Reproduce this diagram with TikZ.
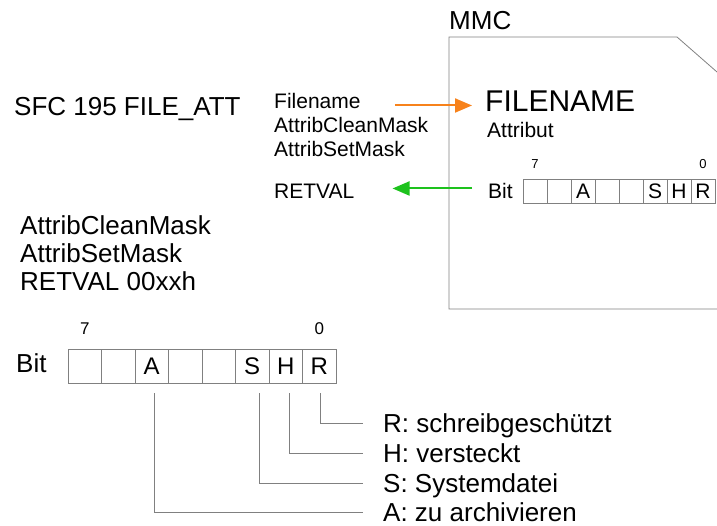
\documentclass[tikz,border=0pt]{standalone}
\usepackage{fontspec}
\setmainfont{Liberation Sans}
\usetikzlibrary{arrows.meta, calc, positioning}
\definecolor{pfeilorange}{HTML}{F7821B}
\definecolor{pfeilgruen}{HTML}{1DC21D}
\definecolor{linie}{HTML}{808080}

\begin{document}
\begin{tikzpicture}[x=1pt, y=-1pt,
    gross/.style={font=\fontsize{26}{31}\selectfont, inner sep=0pt, anchor=base west},
    klein/.style={font=\fontsize{21}{25}\selectfont, inner sep=0pt, anchor=base west},
    zelle/.style={draw=linie, line width=0.8pt, minimum width=33.5pt, minimum height=34pt,
                  inner sep=0pt, font=\fontsize{24}{28}\selectfont},
    kzelle/.style={zelle, minimum width=24pt, minimum height=24pt, font=\fontsize{21}{25}\selectfont},
    nummer/.style={inner sep=0pt, font=\fontsize{17}{20}\selectfont},
    pfeil/.style={-{Triangle[length=17pt, width=14pt]}, line width=2pt},
    leitung/.style={draw=linie, line width=0.8pt},
    eintrag/.style={font=\fontsize{26}{31}\selectfont, inner sep=0pt, anchor=west,
                    text height=19pt, text depth=0pt}
  ]
  \useasboundingbox (0,0) rectangle (717,526);

  % Baustein links
  \node[gross] (sfc) at (14,116) {SFC 195 FILE\_ATT};
  \node[klein] (fn) at (274,109) {Filename};
  \node[klein] (acm) at ([yshift=-24pt]fn.base west) {AttribCleanMask};
  \node[klein] (asm) at ([yshift=-24pt]acm.base west) {AttribSetMask};
  \node[klein] (rv) at ([yshift=-42pt]asm.base west) {RETVAL};

  \node[gross] (acm2) at (20,235) {AttribCleanMask};
  \node[gross] (asm2) at ([yshift=-28pt]acm2.base west) {AttribSetMask};
  \node[gross] (rv2) at ([yshift=-28pt]asm2.base west) {RETVAL 00xxh};

  % MMC-Karte
  \node[gross] (mmc) at (449,30) {MMC};
  \draw[leitung] (717,72) -- (677,37) -- (449,37) -- (449,309) -- (717,309);
  \node[gross, font=\fontsize{30}{36}\selectfont] (FN) at (485,112) {FILENAME};
  \node[klein] (attr) at (487,138) {Attribut};
  \node[klein] (bitm) at (488,199) {Bit};
  \foreach \i/\t in {7/{},6/{},5/A,4/{},3/{},2/S,1/H,0/R}
    \node[kzelle] (m\i) at ({535+24*(7-\i)},191) {\t};
  \node[nummer, font=\fontsize{13}{15}\selectfont, above=10pt of m7] (m7z) {7};
  \node[nummer, font=\fontsize{13}{15}\selectfont, above=10pt of m0] (m0z) {0};

  % Pfeile
  \draw[pfeil, pfeilorange, shorten <=34pt, shorten >=13pt]
    ([yshift=-4pt]fn.east) -- ([yshift=-4pt]fn.east -| FN.west);
  \draw[pfeil, pfeilgruen, shorten <=16pt, shorten >=38pt]
    ([yshift=3pt]bitm.west) -- ([yshift=3pt]bitm.west -| rv.east);

  % Bitmuster unten
  \node[gross] (bitu) at (16,372) {Bit};
  \foreach \i/\t in {7/{},6/{},5/A,4/{},3/{},2/S,1/H,0/R}
    \node[zelle] (u\i) at ({84.75+33.5*(7-\i)},366) {\t};
  \node[nummer, above=14pt of u7] (u7z) {7};
  \node[nummer, above=14pt of u0] (u0z) {0};

  % Beschriftungen
  \node[eintrag] (lR) at (383,423) {R: schreibgeschützt};
  \node[eintrag] (lH) at (383,453) {H: versteckt};
  \node[eintrag] (lS) at (383,483) {S: Systemdatei};
  \node[eintrag] (lA) at (383,512) {A: zu archivieren};

  \draw[leitung] ([xshift=1pt, yshift=-10pt]u0.south) |- ([xshift=-20pt]lR.west);
  \draw[leitung] ([xshift=4pt, yshift=-10pt]u1.south) |- ([xshift=-20pt]lH.west);
  \draw[leitung] ([xshift=7pt, yshift=-10pt]u2.south) |- ([xshift=-20pt]lS.west);
  \draw[leitung] ([xshift=2.5pt, yshift=-10pt]u5.south) |- ([xshift=-20pt]lA.west);
\end{tikzpicture}
\end{document}
